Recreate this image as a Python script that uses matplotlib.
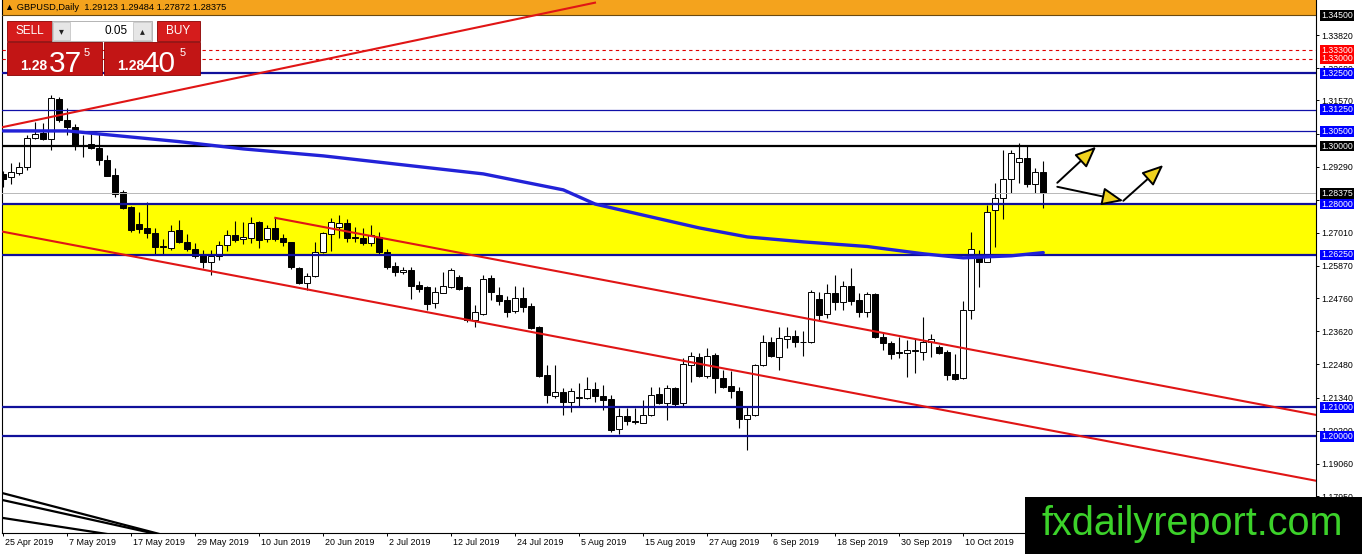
import matplotlib
matplotlib.use('Agg')
import matplotlib.pyplot as plt
from matplotlib.patches import Rectangle, FancyArrowPatch
import matplotlib.transforms as mtransforms

plt.rcParams['font.family'] = ['Liberation Sans', 'DejaVu Sans']

# GBPUSD daily, bar 0 = 25 Apr 2019
opens = [1.2903, 1.2892, 1.2908, 1.2927, 1.3026, 1.3044, 1.3023, 1.3162, 1.3088, 1.3066,
         1.3005, 1.3006, 1.2992, 1.2951, 1.2900, 1.2841, 1.2790, 1.2733, 1.2719, 1.2700,
         1.2655, 1.2650, 1.2711, 1.2671, 1.2646, 1.2625, 1.2602, 1.2623, 1.2659, 1.2694,
         1.2679, 1.2685, 1.2737, 1.2679, 1.2717, 1.2685, 1.2669, 1.2581, 1.2528, 1.2553,
         1.2635, 1.2697, 1.2722, 1.2734, 1.2686, 1.2685, 1.2665, 1.2688, 1.2635, 1.2588,
         1.2565, 1.2573, 1.2522, 1.2513, 1.2458, 1.2495, 1.2516, 1.2550, 1.2513, 1.2402,
         1.2421, 1.2545, 1.2487, 1.2470, 1.2432, 1.2476, 1.2450, 1.2376, 1.2212, 1.2141,
         1.2153, 1.2120, 1.2133, 1.2134, 1.2163, 1.2140, 1.2130, 1.2025, 1.2071, 1.2054,
         1.2048, 1.2075, 1.2146, 1.2117, 1.2166, 1.2117, 1.2247, 1.2273, 1.2209, 1.2281,
         1.2201, 1.2174, 1.2155, 1.2060, 1.2075, 1.2247, 1.2327, 1.2275, 1.2337, 1.2346,
         1.2326, 1.2325, 1.2473, 1.2422, 1.2493, 1.2464, 1.2518, 1.2470, 1.2427, 1.2490,
         1.2344, 1.2321, 1.2290, 1.2287, 1.2295, 1.2292, 1.2326, 1.2307, 1.2292, 1.2214,
         1.2201, 1.2436, 1.2622, 1.2602, 1.2780, 1.2820, 1.2886, 1.2944, 1.2958, 1.2869,
         1.2912]
highs = [1.2914, 1.2940, 1.2946, 1.3038, 1.3082, 1.3078, 1.3175, 1.3170, 1.3130, 1.3075,
         1.3038, 1.3044, 1.3040, 1.2969, 1.2923, 1.2848, 1.2795, 1.2774, 1.2808, 1.2717,
         1.2680, 1.2728, 1.2745, 1.2697, 1.2665, 1.2642, 1.2642, 1.2672, 1.2711, 1.2743,
         1.2740, 1.2757, 1.2742, 1.2728, 1.2751, 1.2697, 1.2671, 1.2585, 1.2562, 1.2671,
         1.2705, 1.2753, 1.2763, 1.2750, 1.2722, 1.2719, 1.2728, 1.2705, 1.2646, 1.2600,
         1.2584, 1.2584, 1.2536, 1.2519, 1.2516, 1.2567, 1.2579, 1.2556, 1.2519, 1.2453,
         1.2556, 1.2556, 1.2513, 1.2482, 1.2519, 1.2516, 1.2459, 1.2381, 1.2247, 1.2247,
         1.2166, 1.2166, 1.2184, 1.2204, 1.2186, 1.2178, 1.2143, 1.2098, 1.2098, 1.2098,
         1.2127, 1.2170, 1.2170, 1.2178, 1.2172, 1.2270, 1.2292, 1.2287, 1.2304, 1.2287,
         1.2229, 1.2224, 1.2172, 1.2103, 1.2250, 1.2350, 1.2344, 1.2378, 1.2378, 1.2365,
         1.2362, 1.2503, 1.2499, 1.2525, 1.2556, 1.2537, 1.2579, 1.2493, 1.2499, 1.2493,
         1.2360, 1.2330, 1.2344, 1.2333, 1.2335, 1.2413, 1.2353, 1.2315, 1.2298, 1.2284,
         1.2468, 1.2705, 1.2642, 1.2797, 1.2874, 1.2986, 1.2986, 1.3009, 1.3003, 1.2923,
         1.2948]
lows = [1.2860, 1.2869, 1.2900, 1.2917, 1.3024, 1.3020, 1.2986, 1.3082, 1.3038, 1.2986,
        1.2963, 1.2988, 1.2935, 1.2896, 1.2825, 1.2783, 1.2705, 1.2700, 1.2683, 1.2627,
        1.2625, 1.2642, 1.2665, 1.2637, 1.2615, 1.2581, 1.2556, 1.2608, 1.2637, 1.2671,
        1.2662, 1.2665, 1.2650, 1.2671, 1.2673, 1.2657, 1.2578, 1.2525, 1.2505, 1.2550,
        1.2631, 1.2637, 1.2683, 1.2669, 1.2669, 1.2659, 1.2657, 1.2627, 1.2577, 1.2554,
        1.2561, 1.2474, 1.2497, 1.2436, 1.2442, 1.2493, 1.2510, 1.2505, 1.2394, 1.2378,
        1.2419, 1.2470, 1.2453, 1.2413, 1.2424, 1.2430, 1.2370, 1.2206, 1.2115, 1.2132,
        1.2075, 1.2086, 1.2101, 1.2129, 1.2120, 1.2092, 1.2017, 1.2009, 1.2040, 1.2043,
        1.2046, 1.2069, 1.2112, 1.2057, 1.2106, 1.2103, 1.2189, 1.2204, 1.2201, 1.2151,
        1.2166, 1.2132, 1.2029, 1.1954, 1.2072, 1.2243, 1.2275, 1.2229, 1.2304, 1.2307,
        1.2278, 1.2322, 1.2402, 1.2407, 1.2434, 1.2434, 1.2453, 1.2411, 1.2413, 1.2338,
        1.2298, 1.2266, 1.2270, 1.2204, 1.2220, 1.2264, 1.2275, 1.2285, 1.2193, 1.2193,
        1.2199, 1.2404, 1.2516, 1.2599, 1.2654, 1.2748, 1.2837, 1.2872, 1.2858, 1.2837,
        1.2787]
closes = [1.2888, 1.2910, 1.2928, 1.3029, 1.3040, 1.3023, 1.3164, 1.3088, 1.3066, 1.3003,
          1.3001, 1.2992, 1.2951, 1.2898, 1.2836, 1.2788, 1.2710, 1.2715, 1.2700, 1.2654,
          1.2653, 1.2708, 1.2671, 1.2645, 1.2620, 1.2602, 1.2623, 1.2659, 1.2694, 1.2677,
          1.2688, 1.2734, 1.2677, 1.2717, 1.2680, 1.2669, 1.2582, 1.2528, 1.2553, 1.2635,
          1.2700, 1.2737, 1.2734, 1.2683, 1.2684, 1.2665, 1.2694, 1.2635, 1.2583, 1.2565,
          1.2573, 1.2519, 1.2508, 1.2455, 1.2497, 1.2518, 1.2573, 1.2508, 1.2402, 1.2428,
          1.2542, 1.2499, 1.2467, 1.2430, 1.2476, 1.2447, 1.2373, 1.2209, 1.2143, 1.2153,
          1.2120, 1.2157, 1.2135, 1.2164, 1.2138, 1.2126, 1.2021, 1.2071, 1.2055, 1.2049,
          1.2075, 1.2143, 1.2117, 1.2166, 1.2112, 1.2249, 1.2276, 1.2209, 1.2278, 1.2201,
          1.2172, 1.2155, 1.2060, 1.2075, 1.2247, 1.2325, 1.2278, 1.2338, 1.2346, 1.2324,
          1.2324, 1.2497, 1.2419, 1.2493, 1.2464, 1.2518, 1.2468, 1.2430, 1.2490, 1.2342,
          1.2321, 1.2284, 1.2288, 1.2298, 1.2297, 1.2327, 1.2335, 1.2287, 1.2212, 1.2197,
          1.2436, 1.2645, 1.2602, 1.2774, 1.2820, 1.2886, 1.2977, 1.2958, 1.2869, 1.2912,
          1.2838]

date_pos = [0, 8, 16, 24, 32, 40, 48, 56, 64, 72, 80, 88, 96, 104, 112, 120]
date_labels = ['25 Apr 2019', '7 May 2019', '17 May 2019', '29 May 2019', '10 Jun 2019',
               '20 Jun 2019', '2 Jul 2019', '12 Jul 2019', '24 Jul 2019', '5 Aug 2019',
               '15 Aug 2019', '27 Aug 2019', '6 Sep 2019', '18 Sep 2019', '30 Sep 2019',
               '10 Oct 2019']

ma_pos = [0, 8, 22, 30, 40, 50, 60, 70, 74, 80, 87, 93, 100, 108, 115, 120, 126, 130]
ma_vals = [1.3052, 1.3052, 1.3015, 1.2990, 1.2966, 1.2935, 1.2904, 1.2849, 1.2800, 1.2762,
           1.2718, 1.2687, 1.2670, 1.2654, 1.2629, 1.2615, 1.2622, 1.2633]

price_ticks = [1.33820, 1.32680, 1.31570, 1.30430, 1.29290, 1.28150, 1.27010, 1.25870,
               1.24760, 1.23620, 1.22480, 1.21340, 1.20200, 1.19060, 1.17950]
# these sit under the coloured level tags, only the tick mark shows
hidden_ticks = [1.30430, 1.28150]

blue_thick = [1.3250, 1.2800, 1.2625, 1.2100, 1.2000]
blue_thin = [1.3125, 1.3050]
red_dashed = [1.3330, 1.3300]
round_level = 1.3000
last_price = 1.28375
zone_low, zone_high = 1.2625, 1.2800
top_level = 1.3450

level_tags = [('1.34500', 1.3450, 'black'), ('1.33300', 1.3330, '#ff0000'),
              ('1.33000', 1.3300, '#ff0000'), ('1.32500', 1.3250, '#0000ff'),
              ('1.31250', 1.3125, '#0000ff'), ('1.30500', 1.3050, '#0000ff'),
              ('1.30000', 1.3000, 'black'), ('1.28375', 1.28375, 'black'),
              ('1.28000', 1.2800, '#0000ff'), ('1.26250', 1.2625, '#0000ff'),
              ('1.21000', 1.2100, '#0000ff'), ('1.20000', 1.2000, '#0000ff')]

# drawn objects (bar index, price)
red_trend = [((-0.41, 1.30631), (73.96, 1.34934)),
             ((-0.41, 1.27068), (164.09, 1.18477)),
             ((34.0, 1.27526), (164.09, 1.20744))]
black_fan = [((-0.41, 1.18073), (19.6, 1.16638)),
             ((-0.41, 1.17832), (19.2, 1.16638)),
             ((-0.41, 1.17211), (13.1, 1.16638))]
arrows = [((131.75, 1.28734), (136.6, 1.29976)),
          ((131.75, 1.28596), (140.0, 1.28113)),
          ((140.0, 1.28113), (145.0, 1.29345))]

W, H = 1362, 554
fig = plt.figure(figsize=(W / 100, H / 100), dpi=100)
ax = fig.add_axes([2 / W, 21 / H, 1314 / W, 533 / H])
ax.set_xlim(-0.1625, 164.09)
ax.set_ylim(1.16678, 1.35026)

ax.axhspan(zone_low, zone_high, color='#ffff00', lw=0, zorder=0)
ax.axhspan(top_level, 1.36, color='#f4a31d', lw=0, zorder=0)
ax.axhline(top_level, color='#6b4a10', lw=0.8, zorder=3)

# candles
for i in range(len(opens)):
    o, h, l, c = opens[i], highs[i], lows[i], closes[i]
    ax.vlines(i, l, h, color='black', lw=0.8, zorder=2)
    fc = 'white' if c >= o else 'black'
    ax.bar(i, max(abs(c - o), 0.00025), bottom=min(o, c), width=0.7,
           color=fc, edgecolor='black', linewidth=0.7, zorder=2)

ax.axhline(last_price, color='#b8b8b8', lw=0.7, zorder=3)
for p in red_dashed:
    ax.axhline(p, color='#e00000', lw=0.8, ls=(0, (3, 3)), zorder=3)
for p in blue_thin:
    ax.axhline(p, color='#1010a8', lw=0.9, zorder=3)
for p in blue_thick:
    ax.axhline(p, color='#10109a', lw=1.6, zorder=3)
ax.axhline(round_level, color='black', lw=1.6, zorder=3)

ax.plot(ma_pos, ma_vals, color='#2222d8', lw=2.4, zorder=3, solid_capstyle='round')

for a, b in red_trend:
    ax.plot([a[0], b[0]], [a[1], b[1]], color='#e01515', lw=1.5, zorder=3)
for a, b in black_fan:
    ax.plot([a[0], b[0]], [a[1], b[1]], color='black', lw=1.6, zorder=3)

for a, b in arrows:
    ax.add_patch(FancyArrowPatch(a, b, arrowstyle='-|>,head_length=1.3,head_width=0.55',
                                 mutation_scale=10, fc='#f0d21e', ec='black', lw=1.4,
                                 shrinkA=0, shrinkB=0, zorder=6))

ax.spines['top'].set_visible(False)
for s in ['left', 'right', 'bottom']:
    ax.spines[s].set_linewidth(0.8)
    ax.spines[s].set_color('black')

ax.yaxis.tick_right()
ax.set_yticks(price_ticks)
ax.set_yticklabels(['' if p in hidden_ticks else '%.5f' % p for p in price_ticks])
ax.tick_params(axis='y', direction='out', length=2.5, width=0.7, pad=1.5, labelsize=6.3)
ax.set_xticks(date_pos)
ax.tick_params(axis='x', direction='out', length=2.5, width=0.7, labelbottom=False)

trans = mtransforms.blended_transform_factory(ax.transData, ax.transAxes)
for pos, lab in zip(date_pos, date_labels):
    ax.text(pos + 0.2, -0.009, lab, transform=trans, ha='left', va='top', fontsize=6.4)

for txt, p, col in level_tags:
    ax.text(1.0038, p, txt, transform=ax.get_yaxis_transform(), ha='left', va='center',
            fontsize=6.3, color='white', zorder=6, clip_on=False,
            bbox=dict(boxstyle='square,pad=0.1', fc=col, ec='none'))

# overlay in pixel coordinates: header, trade panel, watermark
ov = fig.add_axes([0, 0, 1, 1], zorder=10)
ov.set_xlim(0, W)
ov.set_ylim(H, 0)
ov.axis('off')
ov.patch.set_alpha(0)

ov.text(5, 8, '\u25b2 GBPUSD,Daily  1.29123 1.29484 1.27872 1.28375', fontsize=6.7,
        va='center', ha='left', color='black')

ov.add_patch(Rectangle((7, 21), 45, 20, fc='#d51c1c', ec='#8a0000', lw=0.6))
ov.text(29.5, 31, 'SELL', color='white', fontsize=8.5, ha='center', va='center')
ov.add_patch(Rectangle((157, 21), 43, 20, fc='#d51c1c', ec='#8a0000', lw=0.6))
ov.text(178.5, 31, 'BUY', color='white', fontsize=8.5, ha='center', va='center')
ov.add_patch(Rectangle((52, 21), 100, 20, fc='white', ec='#a8a8a8', lw=0.6))
ov.add_patch(Rectangle((53, 22), 17, 18, fc='#e6e6e6', ec='#bdbdbd', lw=0.5))
ov.add_patch(Rectangle((133, 22), 18, 18, fc='#e6e6e6', ec='#bdbdbd', lw=0.5))
ov.text(61.5, 31, '\u25be', fontsize=7, ha='center', va='center', color='#222222',
        family=['DejaVu Sans'])
ov.text(142, 31, '\u25b4', fontsize=7, ha='center', va='center', color='#222222',
        family=['DejaVu Sans'])
ov.text(128, 31, '0.05', fontsize=8.5, ha='right', va='center', color='black')

ov.add_patch(Rectangle((7, 42), 95, 33, fc='#c21515', ec='#8a0000', lw=0.6))
ov.add_patch(Rectangle((104, 42), 96, 33, fc='#c21515', ec='#8a0000', lw=0.6))
ov.text(20, 70.5, '1.28', color='white', fontsize=10, fontweight='bold', ha='left', va='baseline')
ov.text(49, 71.5, '37', color='white', fontsize=21.5, ha='left', va='baseline')
ov.text(84, 56, '5', color='white', fontsize=8, ha='left', va='baseline')
ov.text(117, 70.5, '1.28', color='white', fontsize=10, fontweight='bold', ha='left', va='baseline')
ov.text(142, 71.5, '40', color='white', fontsize=21.5, ha='left', va='baseline')
ov.text(180, 56, '5', color='white', fontsize=8, ha='left', va='baseline')

ov.add_patch(Rectangle((1025, 497), 337, 57, fc='black', ec='none'))
ov.text(1192, 535, 'fxdailyreport.com', color='#3cd22a', fontsize=28.5, ha='center',
        va='baseline')

fig.savefig('out.png', dpi=100, facecolor='white')
